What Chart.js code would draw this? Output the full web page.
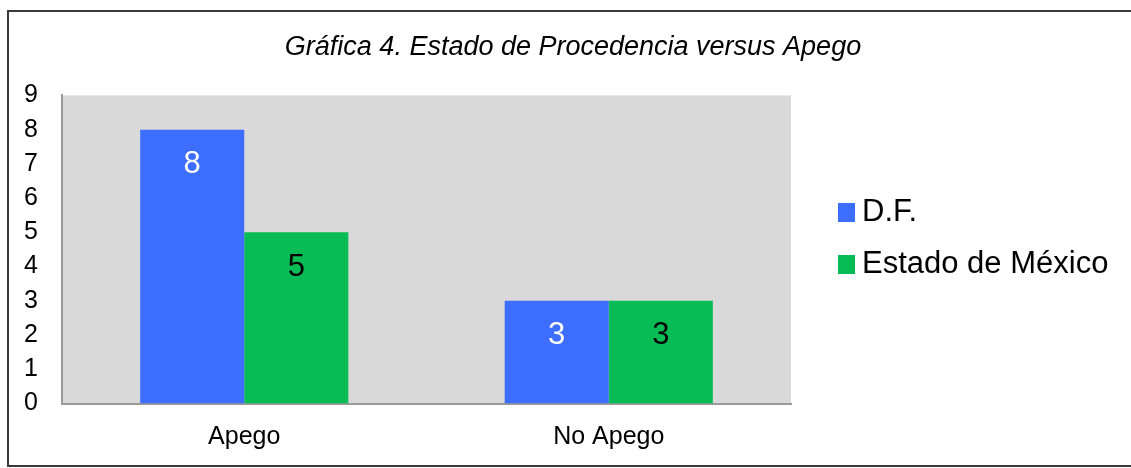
<!DOCTYPE html>
<html lang="es">
<head>
    <meta charset="UTF-8">
    <title>Gráfica 4</title>
    <script src="https://cdn.jsdelivr.net/npm/chart.js@4.4.1/dist/chart.umd.min.js"></script>
    <style>
        body { margin: 0; background: #fff; }
        #wrap { position: relative; width: 1131px; height: 468px; }
        #legend { position: absolute; left: 838px; top: 188px; font-family: 'Liberation Sans', Arial, sans-serif; font-size: 31px; color: #000; }
        #legend div { height: 52px; line-height: 46px; white-space: nowrap; }
        #legend span { display: inline-block; width: 17px; height: 19px; margin-right: 7px; vertical-align: -1px; }
    </style>
</head>
<body>
    <div id="wrap">
        <canvas id="chart" width="1131" height="468"></canvas>
        <div id="legend"></div>
    </div>

    <script>
        const categories = ['Apego', 'No Apego'];
        const seriesNames = ['D.F.', 'Estado de México'];
        const dfValues = [8, 3];
        const edomexValues = [5, 3];
        const yTicks = [0, 1, 2, 3, 4, 5, 6, 7, 8, 9];

        const FONT = "'Liberation Sans', Arial, sans-serif";

        // gray plot area + outer frame
        const backdrop = {
            id: 'backdrop',
            beforeDraw(chart) {
                const { ctx, chartArea } = chart;
                ctx.save();
                ctx.fillStyle = '#d9d9d9';
                ctx.fillRect(chartArea.left, chartArea.top, chartArea.right - chartArea.left, chartArea.bottom - chartArea.top);
                ctx.strokeStyle = '#3a3a3a';
                ctx.lineWidth = 2;
                ctx.strokeRect(8, 11, 1200, 455);
                ctx.restore();
            }
        };

        // value labels inside the bars
        const valueLabels = {
            id: 'valueLabels',
            afterDatasetsDraw(chart) {
                const { ctx } = chart;
                ctx.save();
                ctx.font = '31px ' + FONT;
                ctx.textAlign = 'center';
                ctx.textBaseline = 'middle';
                chart.data.datasets.forEach((ds, i) => {
                    ctx.fillStyle = i === 0 ? '#ffffff' : '#000000';
                    chart.getDatasetMeta(i).data.forEach((bar, j) => {
                        ctx.fillText(String(ds.data[j]), bar.x, bar.y + 35);
                    });
                });
                ctx.restore();
            }
        };

        const chart = new Chart(document.getElementById('chart'), {
            type: 'bar',
            data: {
                labels: categories,
                datasets: [
                    { label: seriesNames[0], data: dfValues, backgroundColor: '#3d6eff', borderWidth: 0 },
                    { label: seriesNames[1], data: edomexValues, backgroundColor: '#07bb55', borderWidth: 0 }
                ]
            },
            options: {
                responsive: false,
                animation: false,
                devicePixelRatio: 1,
                layout: { padding: { left: 23, right: 8, top: 0, bottom: 0 } },
                datasets: {
                    bar: { categoryPercentage: 0.571, barPercentage: 1 }
                },
                scales: {
                    x: {
                        afterFit(scale) { scale.height = 64.5; },
                        grid: { display: false, drawTicks: false },
                        border: { display: true, color: '#9a9a9a', width: 2 },
                        ticks: { color: '#000', padding: 19, font: { family: FONT, size: 25 } }
                    },
                    y: {
                        min: 0,
                        max: 9,
                        afterBuildTicks(scale) {
                            scale.ticks = yTicks.map(v => ({ value: v }));
                        },
                        afterFit(scale) { scale.width = 39; },
                        grid: { display: false, drawTicks: false },
                        border: { display: true, color: '#9a9a9a', width: 2 },
                        ticks: { color: '#000', padding: 24, autoSkip: false, font: { family: FONT, size: 25 } }
                    },
                    // empty room on the right where the legend sits
                    legendRoom: {
                        type: 'linear',
                        position: 'right',
                        afterFit(scale) { scale.width = 332; },
                        grid: { display: false, drawTicks: false },
                        border: { display: false },
                        ticks: { display: false }
                    }
                },
                plugins: {
                    title: {
                        display: true,
                        text: 'Gráfica 4. Estado de Procedencia versus Apego',
                        color: '#000',
                        font: { family: FONT, size: 27, style: 'italic', weight: 'normal' },
                        padding: { top: 31, bottom: 32 }
                    },
                    legend: { display: false },
                    tooltip: { enabled: false }
                }
            },
            plugins: [backdrop, valueLabels]
        });

        // legend built from the chart's datasets
        document.getElementById('legend').innerHTML = chart.data.datasets
            .map(ds => `<div><span style="background:${ds.backgroundColor}"></span>${ds.label}</div>`)
            .join('');
    </script>
</body>
</html>
